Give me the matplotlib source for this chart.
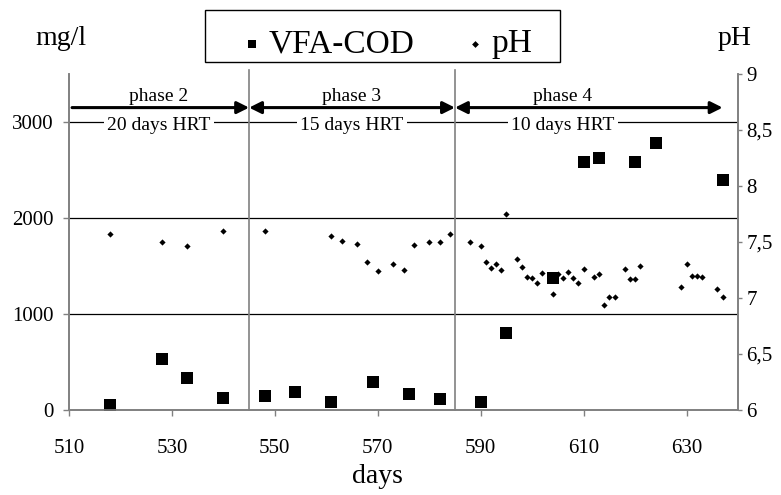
import matplotlib
matplotlib.use('Agg')
import matplotlib.pyplot as plt
from matplotlib.patches import Rectangle

plt.rcParams['font.family'] = ['Liberation Serif', 'DejaVu Serif']

# VFA-COD (mg/l), left axis
vfa_days = [518, 528, 533, 540, 548, 554, 561, 569, 576, 582,
            590, 595, 604, 610, 613, 620, 624, 637]
vfa_cod = [55, 530, 335, 120, 145, 185, 85, 290, 170, 110,
           85, 800, 1370, 2580, 2630, 2580, 2780, 2400]

# pH, right axis
ph_days = [518, 528, 533, 540,
           548, 561, 563, 566, 568, 570, 573, 575, 577, 580, 582, 584,
           588, 590, 591, 592, 593, 594, 595, 597, 598, 599, 600, 601,
           602, 604, 605, 606, 607, 608, 609, 610, 612, 613, 614, 615,
           616, 618, 619, 620, 621, 629, 630, 631, 632, 633, 636, 637]
ph_values = [7.57, 7.50, 7.46, 7.60,
             7.60, 7.55, 7.51, 7.48, 7.32, 7.24, 7.30, 7.25, 7.47, 7.50, 7.50, 7.57,
             7.50, 7.46, 7.32, 7.27, 7.30, 7.25, 7.75, 7.35, 7.28, 7.19, 7.18, 7.13,
             7.22, 7.04, 7.21, 7.18, 7.23, 7.18, 7.13, 7.26, 7.19, 7.21, 6.94, 7.01,
             7.01, 7.26, 7.17, 7.17, 7.29, 7.10, 7.30, 7.20, 7.20, 7.19, 7.08, 7.01]

x_ticks = [510, 530, 550, 570, 590, 610, 630]
cod_ticks = [0, 1000, 2000, 3000]
ph_ticks = [6, 6.5, 7, 7.5, 8, 8.5, 9]
ph_tick_labels = ['6', '6,5', '7', '7,5', '8', '8,5', '9']

# phases: arrow start/end (days), label centre, labels
phase_start = [510.6, 545, 585]
phase_end = [545, 585, 637]
phase_center = [527.5, 565, 606]
phase_labels = ['phase 2', 'phase 3', 'phase 4']
hrt_labels = ['20 days HRT', '15 days HRT', '10 days HRT']
phase_arrows = ['-|>', '<|-|>', '<|-|>']
phase_bounds = [545, 585]

fig = plt.figure(figsize=(7.81, 4.95), dpi=100)
ax = fig.add_axes([0.0883, 0.1717, 0.8567, 0.6788])
ax2 = ax.twinx()

gray = '#808080'

ax.scatter(vfa_days, vfa_cod, marker='s', s=85, color='black', linewidths=0,
           zorder=3, label='VFA-COD')
ax2.scatter(ph_days, ph_values, marker='D', s=10, color='black', linewidths=0,
            zorder=3, label='pH')

ax.set_xlim(510, 640)
ax.set_ylim(0, 3500)
ax2.set_ylim(6, 9)
ax.set_xticks(x_ticks)
ax.set_yticks(cod_ticks)
ax2.set_yticks(ph_ticks)
ax2.set_yticklabels(ph_tick_labels)

ax.yaxis.grid(True, color='black', linewidth=0.9)
ax.yaxis.get_gridlines()[0].set_visible(False)

for a in (ax, ax2):
    a.spines['top'].set_visible(False)
    for side in ('left', 'right', 'bottom'):
        a.spines[side].set_color(gray)
        a.spines[side].set_linewidth(1.2)

ax.tick_params(axis='x', direction='out', length=4, width=1, color=gray,
               labelsize=15, pad=17)
ax.tick_params(axis='y', direction='out', length=4, width=1, color=gray,
               labelsize=15, pad=7)
ax2.tick_params(axis='y', direction='out', length=3, width=1, color=gray,
                labelsize=15, pad=3)

for xb in phase_bounds:
    ax.axvline(xb, ymin=0, ymax=1.012, color=gray, linewidth=1.2,
               clip_on=False, zorder=2)

for i in range(len(phase_labels)):
    ax.annotate('', xy=(phase_end[i], 3150), xytext=(phase_start[i], 3150),
                arrowprops=dict(arrowstyle=phase_arrows[i], lw=2.2, color='black',
                                mutation_scale=18, shrinkA=0, shrinkB=0),
                zorder=5)
    ax.text(phase_center[i], 3270, phase_labels[i], ha='center', va='center',
            fontsize=14, zorder=5)
    ax.text(phase_center[i], 2960, hrt_labels[i], ha='center', va='center',
            fontsize=14, zorder=4,
            bbox=dict(boxstyle='square,pad=0.15', facecolor='white', edgecolor='none'))

# axis titles
fig.text(61 / 781, 1 - 45 / 495, 'mg/l', ha='center', va='baseline', fontsize=20)
fig.text(735 / 781, 1 - 45 / 495, 'pH', ha='center', va='baseline', fontsize=20)
fig.text(377 / 781, 1 - 483 / 495, 'days', ha='center', va='baseline', fontsize=20)

# legend box
fig.patches.append(Rectangle((205 / 781, 1 - 62 / 495), 355 / 781, 52 / 495,
                             transform=fig.transFigure, facecolor='white',
                             edgecolor='black', linewidth=1.0))
h1, l1 = ax.get_legend_handles_labels()
h2, l2 = ax2.get_legend_handles_labels()
leg = fig.legend(h1 + h2, l1 + l2, loc='center left',
                 bbox_to_anchor=(222 / 781, 1 - 44 / 495),
                 ncol=2, frameon=False, fontsize=24,
                 handlelength=0.8, handletextpad=0.1, columnspacing=1.4, borderpad=0)
leg.legend_handles[0].set_sizes([40])
leg.legend_handles[1].set_sizes([12])

fig.savefig('out.png', dpi=100)
